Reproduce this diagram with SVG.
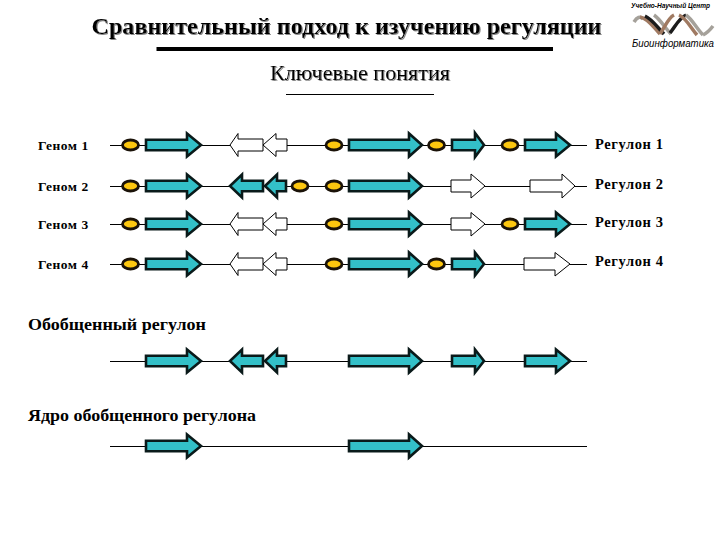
<svg xmlns="http://www.w3.org/2000/svg" width="720" height="540" viewBox="0 0 720 540">
<defs>
<filter id="sh" x="-5%" y="-20%" width="110%" height="140%"><feDropShadow dx="1" dy="1" stdDeviation="0.6" flood-color="#888"/></filter>
<ellipse id="ov" rx="8" ry="5" class="oval"/>
<path id="bigR" class="c" d="M146 -5.300H187V-11.500L201 0L187 11.500V5.300H146Z"/>
<path id="longR" class="c" d="M349 -5.300H409V-11.500L422 0L409 11.500V5.300H349Z"/>
<path id="midR" class="c" d="M452 -5.300H475V-11.500L484 0L475 11.500V5.300H452Z"/>
<path id="endR" class="c" d="M525 -5.300H556V-11.500L570 0L556 11.500V5.300H525Z"/>
<path id="lA" class="c" d="M230 0L242 -11.500V-5.300H263V5.300H242V11.500Z"/>
<path id="lB" class="c" d="M265 0L277 -11.500V-5.300H286V5.300H277V11.500Z"/>
<g id="wL"><path class="w" d="M230 0L238 -11.500V-6H263V6H238V11.500Z"/><path class="w" d="M263 0L276 -11.500V-6H287V6H276V11.500Z"/></g>
</defs>
<style>
text{font-family:"Liberation Serif","Times New Roman",serif;fill:#000}
.title{font-size:24px;font-weight:bold;text-anchor:middle}
.sub{font-size:22px;text-anchor:middle}
.lbl{font-size:13.500px;font-weight:bold;letter-spacing:.5px}
.lbl2{font-size:14.500px;font-weight:bold;letter-spacing:.6px}
.hd{font-size:17px;font-weight:bold}
.logo{font-family:"Liberation Sans",sans-serif;font-style:italic}
.ln{stroke:#000;stroke-width:1;fill:none}
.oval{fill:#fdc70f;stroke:#1a1208;stroke-width:2.800}
.c{fill:#33c0c8;stroke:#0a1a1a;stroke-width:2.600;stroke-linejoin:miter}
.w{fill:#fff;stroke:#000;stroke-width:1}
.h{fill:none;stroke-width:3.500;stroke-linecap:butt}
</style>
<g id="header">
<text class="title" x="346.500" y="34" filter="url(#sh)" textLength="510" lengthAdjust="spacingAndGlyphs">Сравнительный подход к изучению регуляции</text>
<rect x="156.500" y="47" width="396.500" height="4" fill="#000"/>
<text class="sub" x="360" y="79.500" filter="url(#sh)" textLength="180" lengthAdjust="spacingAndGlyphs">Ключевые понятия</text>
<rect x="286" y="94" width="148" height="1" fill="#000"/>
</g>
<g id="logo">
<text class="logo" x="631" y="8" font-size="7" font-weight="bold" textLength="79" lengthAdjust="spacingAndGlyphs">Учебно-Научный Центр</text>
<path class="h" stroke="#a5a19a" d="M634 22C637 17 640 16 643 19"/>
<path class="h" stroke="#a07a62" d="M640 17C648 18 654 28 660 34"/>
<path class="h" stroke="#1c1c1c" d="M645 16C652 19 658 28 664 34"/>
<path class="h" stroke="#a5a19a" d="M654 15C660 19 665 28 671 34"/>
<path class="h" stroke="#a07a62" d="M660 34C665 27 668 18 674 15"/>
<path class="h" stroke="#1c1c1c" d="M670 33C675 27 679 18 686 15"/>
<path class="h" stroke="#a5a19a" d="M686 15C692 19 697 29 703 35"/>
<path class="h" stroke="#a07a62" d="M679 15C686 18 691 28 697 35"/>
<path class="h" stroke="#a5a19a" d="M703 35C707 33 710 30 713 26"/>
<text class="logo" x="632" y="46.500" font-size="10" textLength="82" lengthAdjust="spacingAndGlyphs">Биоинформатика</text>
</g>
<g id="connectors">
<path class="ln" d="M110 145.500H587M110 186.500H587M110 224.500H587M110 264.500H587M110 361.500H587M110 446.500H587"/>
</g>
<g id="genome1" transform="translate(0 145)">
<text class="lbl" x="38" y="5">Геном 1</text>
<use href="#ov" x="130.500"/><use href="#bigR"/><use href="#wL"/><use href="#ov" x="334"/><use href="#longR"/><use href="#ov" x="436.500"/>
<path class="c" d="M452 -5.300H475V-12L484 0L475 12V5.300H452Z"/>
<use href="#ov" x="510"/><use href="#endR"/>
<text class="lbl2" x="595" y="3.500">Регулон 1</text>
</g>
<g id="genome2" transform="translate(0 186)">
<text class="lbl" x="38" y="5">Геном 2</text>
<use href="#ov" x="130.500"/><use href="#bigR"/><use href="#lA"/><use href="#lB"/><use href="#ov" x="300"/><use href="#ov" x="334"/><use href="#longR"/>
<path class="w" d="M451 -6H471V-12L485 0L471 12V6H451Z"/>
<path class="w" d="M530 -6H562V-12L575 0L562 12V6H530Z"/>
<text class="lbl2" x="595" y="3">Регулон 2</text>
</g>
<g id="genome3" transform="translate(0 224)">
<text class="lbl" x="38" y="5">Геном 3</text>
<use href="#ov" x="130.500"/><use href="#bigR"/><use href="#wL"/><use href="#ov" x="334"/><use href="#longR"/>
<path class="w" d="M451 -6H471V-11.500L485 0L471 12V6H451Z"/>
<use href="#ov" x="510"/><use href="#endR"/>
<text class="lbl2" x="595" y="3">Регулон 3</text>
</g>
<g id="genome4" transform="translate(0 264)">
<text class="lbl" x="38" y="5">Геном 4</text>
<use href="#ov" x="130.500"/><use href="#bigR"/><use href="#wL"/><use href="#ov" x="334"/><use href="#longR"/><use href="#ov" x="436.500"/><use href="#midR"/>
<path class="w" d="M524 -6H555V-11.500L570 0L555 12V6H524Z"/>
<text class="lbl2" x="595" y="1.500">Регулон 4</text>
</g>
<g id="generalized">
<text class="hd" x="28" y="330" textLength="178" lengthAdjust="spacingAndGlyphs">Обобщенный регулон</text>
<g transform="translate(0 361)"><use href="#bigR"/><use href="#lA"/><use href="#lB"/><use href="#longR"/><use href="#midR"/><use href="#endR"/></g>
</g>
<g id="core">
<text class="hd" x="28" y="421" textLength="228" lengthAdjust="spacingAndGlyphs">Ядро обобщенного регулона</text>
<g transform="translate(0 446)"><use href="#bigR"/><use href="#longR"/></g>
</g>
</svg>
